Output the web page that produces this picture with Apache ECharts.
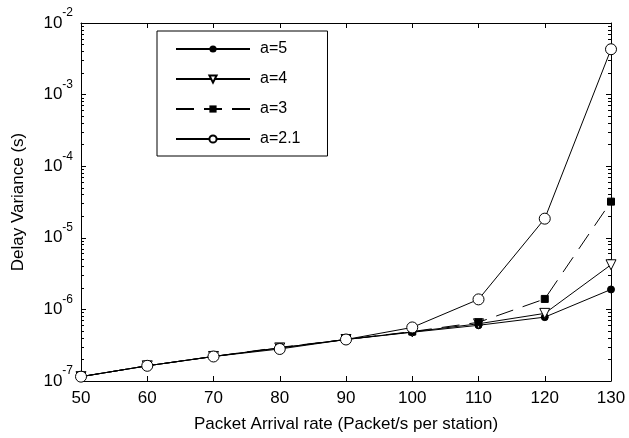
<!DOCTYPE html>
<html>
<head>
<meta charset="utf-8">
<script src="https://cdn.jsdelivr.net/npm/echarts@6/dist/echarts.min.js"></script>
<style>
  html, body { margin: 0; padding: 0; background: #fff; }
  #chart { width: 629px; height: 438px; }
</style>
</head>
<body>
<div id="chart"></div>
<script>
// packet arrival rate (packet/s per station)
var rates = [50, 60, 70, 80, 90, 100, 110, 120, 130];
var seriesNames = ['a=5', 'a=4', 'a=3', 'a=2.1'];
var varA5  = [1.15e-7, 1.63e-7, 2.2e-7, 2.9e-7, 3.8e-7, 4.8e-7, 6.0e-7, 7.8e-7, 1.9e-6];
var varA4  = [1.15e-7, 1.63e-7, 2.2e-7, 2.9e-7, 3.8e-7, 4.85e-7, 6.3e-7, 8.8e-7, 4.2e-6];
var varA3  = [1.15e-7, 1.63e-7, 2.2e-7, 2.95e-7, 3.8e-7, 4.9e-7, 6.6e-7, 1.4e-6, 3.2e-5];
var varA21 = [1.15e-7, 1.63e-7, 2.2e-7, 2.8e-7, 3.8e-7, 5.6e-7, 1.38e-6, 1.85e-5, 4.3e-3];

var FONT = 'Liberation Sans, Arial, sans-serif';

function pairs(vals) {
    return rates.map(function (r, i) { return [r, vals[i]]; });
}

function yLabel(v) {
    var e = Math.round(Math.log10(v));
    return '{b|10}{s|' + e + '}';
}

var myChart = echarts.init(document.getElementById('chart'));

var baseX = {
    type: 'value', min: 50, max: 130, interval: 10,
    axisLine: { show: true, lineStyle: { color: '#000', width: 1 } },
    axisTick: { show: true, inside: true, length: 5, lineStyle: { color: '#000', width: 1 } },
    splitLine: { show: false }
};
var baseY = {
    type: 'log', logBase: 10, min: 1e-7, max: 1e-2,
    axisLine: { show: true, lineStyle: { color: '#000', width: 1 } },
    axisTick: { show: true, inside: true, length: 5, lineStyle: { color: '#000', width: 1 } },
    minorTick: { show: true, splitNumber: 9, length: 3, lineStyle: { color: '#000', width: 1 } },
    splitLine: { show: false }
};

var option = {
    animation: false,
    backgroundColor: '#fff',
    textStyle: { fontFamily: FONT },
    grid: { left: 81, right: 18, top: 23, bottom: 55 },
    legend: {
        data: seriesNames,
        orient: 'vertical',
        left: 157,
        top: 31,
        itemWidth: 74,
        itemHeight: 9,
        itemGap: 12,
        padding: [9, 27, 8, 18],
        borderColor: '#000',
        borderWidth: 1,
        backgroundColor: '#fff',
        textStyle: { fontFamily: FONT, fontSize: 16, color: '#000', lineHeight: 18, padding: [0, 0, 0, 5] }
    },
    xAxis: [
        Object.assign({}, baseX, {
            position: 'bottom',
            name: 'Packet Arrival rate (Packet/s per station)',
            nameLocation: 'middle',
            nameGap: 35,
            nameTextStyle: { fontFamily: FONT, fontSize: 17, color: '#000' },
            axisLabel: { fontFamily: FONT, fontSize: 17, color: '#000', margin: 9 }
        }),
        Object.assign({}, baseX, { position: 'top', axisLabel: { show: false } })
    ],
    yAxis: [
        Object.assign({}, baseY, {
            position: 'left',
            name: 'Delay Variance (s)',
            nameLocation: 'middle',
            nameGap: 54,
            nameTextStyle: { fontFamily: FONT, fontSize: 17, color: '#000' },
            axisLabel: {
                margin: 8,
                formatter: yLabel,
                rich: {
                    b: { fontFamily: FONT, fontSize: 17, color: '#000' },
                    s: { fontFamily: FONT, fontSize: 12, color: '#000', padding: [0, 0, 20, 0] }
                }
            }
        }),
        Object.assign({}, baseY, { position: 'right', axisLabel: { show: false } })
    ],
    series: [
        {
            name: 'a=5', type: 'line', data: pairs(varA5),
            symbol: 'circle', symbolSize: 7,
            lineStyle: { color: '#000', width: 1 },
            itemStyle: { color: '#000', borderColor: '#000' }
        },
        {
            name: 'a=4', type: 'line', data: pairs(varA4),
            symbol: 'triangle', symbolSize: 10, symbolRotate: 180,
            lineStyle: { color: '#000', width: 1 },
            itemStyle: { color: '#fff', borderColor: '#000', borderWidth: 1 }
        },
        {
            name: 'a=3', type: 'line', data: pairs(varA3),
            symbol: 'rect', symbolSize: 7,
            lineStyle: { color: '#000', width: 1, type: [18, 10] },
            itemStyle: { color: '#000', borderColor: '#000' }
        },
        {
            name: 'a=2.1', type: 'line', data: pairs(varA21),
            symbol: 'circle', symbolSize: 11,
            lineStyle: { color: '#000', width: 1 },
            itemStyle: { color: '#fff', borderColor: '#000', borderWidth: 1 }
        }
    ]
};

option && myChart.setOption(option);
</script>
</body>
</html>
